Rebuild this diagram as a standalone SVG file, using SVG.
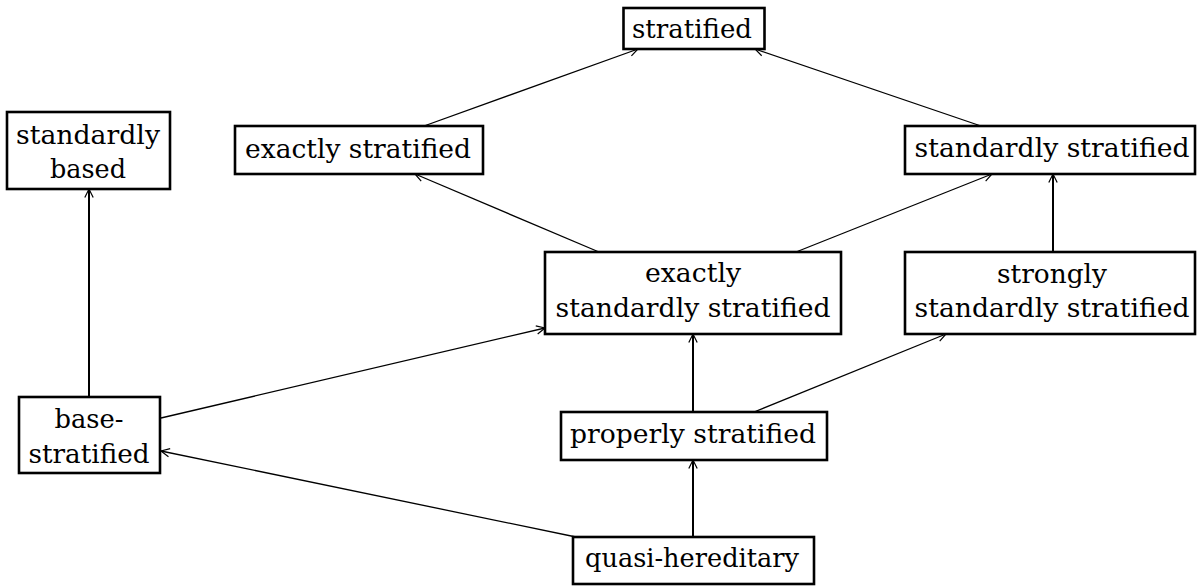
<svg xmlns="http://www.w3.org/2000/svg" width="1198" height="587" viewBox="0 0 1198 587">
<defs>
<style>
.box{fill:#fff;stroke:#000;stroke-width:2.6}
.t{font-family:"DejaVu Serif","Liberation Serif",serif;font-size:26.5px;fill:#000;text-anchor:middle}
.d{fill:none;stroke:#000;stroke-width:1.3;marker-end:url(#ah)}
.v{fill:none;stroke:#000;stroke-width:2;marker-end:url(#ah)}
</style>
<marker id="ah" markerUnits="userSpaceOnUse" viewBox="-10 -6 12 12" refX="0" refY="0" markerWidth="12" markerHeight="12" orient="auto">
<path d="M -8.5 -4.2 L 0 0 L -8.5 4.2" fill="none" stroke="#000" stroke-width="1.2"/>
</marker>
</defs>
<rect width="1198" height="587" fill="#fff"/>
<g id="connectors">
<line class="d" x1="424" y1="126" x2="638" y2="49"/>
<line class="d" x1="981" y1="126" x2="755" y2="49"/>
<line class="d" x1="599" y1="252" x2="415" y2="174"/>
<line class="d" x1="796" y1="252" x2="992" y2="174"/>
<line class="v" x1="1053" y1="252" x2="1053" y2="174"/>
<line class="v" x1="89" y1="397" x2="89" y2="189"/>
<line class="d" x1="161" y1="418" x2="545" y2="328"/>
<line class="v" x1="693" y1="412" x2="693" y2="334"/>
<line class="d" x1="754" y1="412" x2="946" y2="334"/>
<line class="v" x1="693" y1="537" x2="693" y2="460"/>
<line class="d" x1="576" y1="537" x2="161" y2="451"/>
</g>
<g id="stratified">
<rect class="box" x="623.5" y="8" width="141" height="41"/>
<text class="t" x="692" y="38" textLength="120" lengthAdjust="spacingAndGlyphs">stratified</text>
</g>
<g id="exactly-stratified">
<rect class="box" x="235" y="126" width="248" height="48"/>
<text class="t" x="358" y="158" textLength="226" lengthAdjust="spacingAndGlyphs">exactly stratified</text>
</g>
<g id="standardly-stratified">
<rect class="box" x="905" y="126" width="290" height="48"/>
<text class="t" x="1052" y="157" textLength="275" lengthAdjust="spacingAndGlyphs">standardly stratified</text>
</g>
<g id="standardly-based">
<rect class="box" x="7" y="112" width="163" height="77"/>
<text class="t" x="88" y="144" textLength="144" lengthAdjust="spacingAndGlyphs">standardly</text>
<text class="t" x="88" y="178" textLength="76" lengthAdjust="spacingAndGlyphs">based</text>
</g>
<g id="exactly-standardly-stratified">
<rect class="box" x="545" y="252" width="296" height="82"/>
<text class="t" x="693" y="282" textLength="96" lengthAdjust="spacingAndGlyphs">exactly</text>
<text class="t" x="693" y="317" textLength="275" lengthAdjust="spacingAndGlyphs">standardly stratified</text>
</g>
<g id="strongly-standardly-stratified">
<rect class="box" x="905" y="252" width="290" height="82"/>
<text class="t" x="1052" y="283" textLength="110" lengthAdjust="spacingAndGlyphs">strongly</text>
<text class="t" x="1052" y="317" textLength="275" lengthAdjust="spacingAndGlyphs">standardly stratified</text>
</g>
<g id="base-stratified">
<rect class="box" x="19" y="397" width="141" height="76"/>
<text class="t" x="89" y="428" textLength="69" lengthAdjust="spacingAndGlyphs">base-</text>
<text class="t" x="89" y="463" textLength="121" lengthAdjust="spacingAndGlyphs">stratified</text>
</g>
<g id="properly-stratified">
<rect class="box" x="561" y="412" width="266" height="48"/>
<text class="t" x="693" y="443" textLength="246" lengthAdjust="spacingAndGlyphs">properly stratified</text>
</g>
<g id="quasi-hereditary">
<rect class="box" x="573" y="537" width="241" height="47"/>
<text class="t" x="692" y="567" textLength="214" lengthAdjust="spacingAndGlyphs">quasi-hereditary</text>
</g>
</svg>
